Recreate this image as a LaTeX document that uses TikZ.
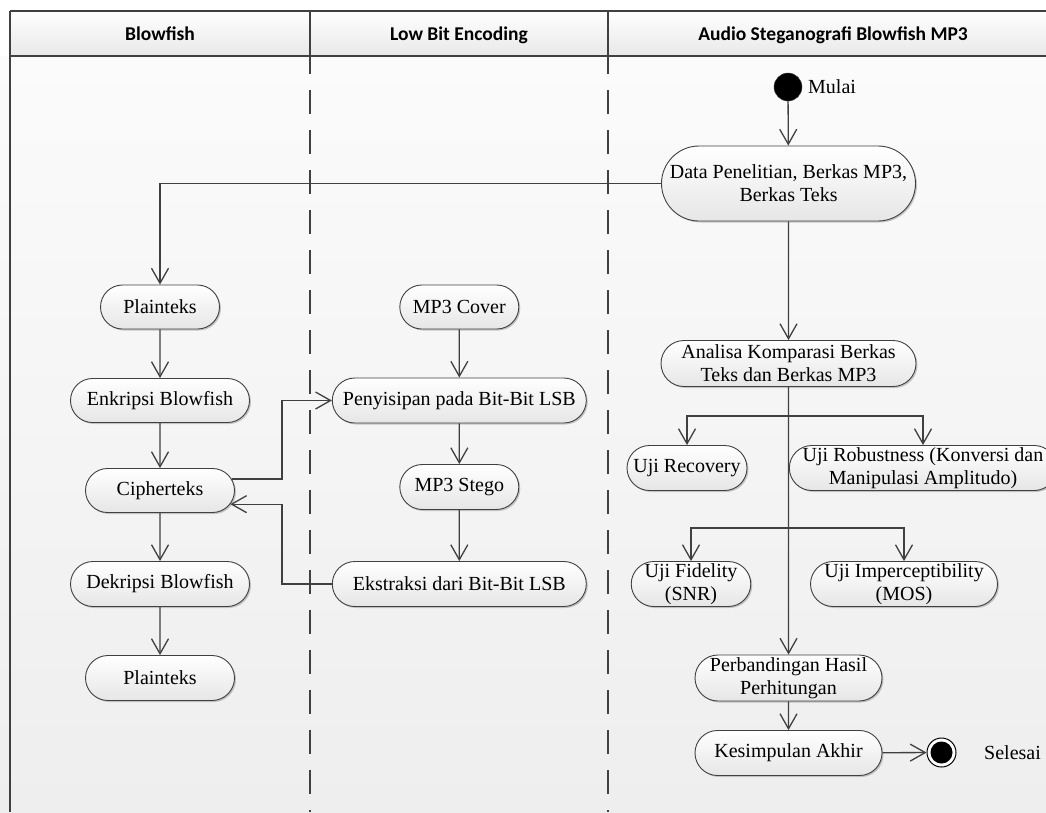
\documentclass[tikz,border=0pt]{standalone}
\usepackage{fontspec}
\setmainfont{Liberation Serif}
\newfontfamily\hdrfont{Carlito}
\usetikzlibrary{shapes.misc,arrows.meta,shadows}
\definecolor{ln}{HTML}{404040}
\definecolor{bgtop}{HTML}{FBFBFB}
\definecolor{bgbot}{HTML}{EEEEEE}
\definecolor{hdbot}{HTML}{E8E8E8}
\definecolor{ndbot}{HTML}{E6E6E6}
\begin{document}
\begin{tikzpicture}[x=1pt,y=-1pt,
  act/.style={rounded rectangle, draw=ln, line width=0.9pt, top color=white, bottom color=ndbot,
    inner sep=0pt, align=center, font=\fontsize{20}{23}\selectfont,
    drop shadow={shadow xshift=1.5pt, shadow yshift=-1.5pt, fill=black, opacity=0.2}},
  arr/.style={draw=ln, line width=1.3pt, -{Straight Barb[length=15pt,width=17pt]}},
  conn/.style={draw=ln, line width=1.3pt},
  lane/.style={draw=ln, line width=1.3pt},
  lanedash/.style={draw=ln, line width=1.3pt, dash pattern=on 24pt off 16pt, dash phase=6pt},
  hdr/.style={font=\hdrfont\bfseries\fontsize{19.5}{23}\selectfont, anchor=base},
  lbl/.style={font=\fontsize{20}{23}\selectfont, anchor=base west, inner sep=0pt}
]
\useasboundingbox (0,0) rectangle (1046,812);
\clip (0,0) rectangle (1046,812);
\fill[white] (0,0) rectangle (1046,812);
\shade[top color=bgtop, bottom color=bgbot] (0,56) rectangle (1046,812);
\shade[top color=white, bottom color=hdbot] (10,11) rectangle (1060,56);
\draw[lane] (10,11) -- (1060,11);
\draw[lane] (10,56) -- (1060,56);
\draw[lane] (10,11) -- (10,812);
\draw[lane] (310,11) -- (310,56);
\draw[lane] (608,11) -- (608,56);
\draw[lanedash] (310,56) -- (310,812);
\draw[lanedash] (608,56) -- (608,812);

\node[hdr] (h1) at (160,40) {Blowfish};
\node[hdr] (h2) at (459,40) {Low Bit Encoding};
\node[hdr] (h3) at (833,40) {Audio Steganografi Blowfish MP3};

% right lane
\node[circle, fill=black, draw=ln, minimum size=28pt, inner sep=0pt] (start) at (788,87) {};
\node[lbl] (mulai) at (808,93) {Mulai};
\node[act, minimum width=254pt, minimum height=75pt] (data) at (788.5,183.5) {Data Penelitian, Berkas MP3,\\Berkas Teks};
\node[act, minimum width=255pt, minimum height=46pt] (anal) at (788.5,363.5) {Analisa Komparasi Berkas\\Teks dan Berkas MP3};
\node[act, minimum width=120pt, minimum height=45pt] (recov) at (687,468) {Uji Recovery};
\node[act, minimum width=254pt, minimum height=45pt] (robust) at (923,468) {Uji Robustness (Konversi dan\\Manipulasi Amplitudo)};
\node[act, minimum width=119pt, minimum height=45pt] (fidel) at (691,584) {Uji Fidelity\\(SNR)};
\node[act, minimum width=187pt, minimum height=45pt] (imper) at (904,584) {Uji Imperceptibility\\(MOS)};
\node[act, minimum width=187pt, minimum height=46pt] (perb) at (788.5,678) {Perbandingan Hasil\\Perhitungan};
\node[act, minimum width=187pt, minimum height=45pt] (kesim) at (788.5,753) {Kesimpulan Akhir};
\node[circle, draw=black, line width=1pt, fill=white, minimum size=29pt, inner sep=0pt,
  path picture={\fill[black] (path picture bounding box.center) circle (11pt);}] (end) at (941.5,752.5) {};
\node[lbl] (selesai) at (984,759) {Selesai};

% left lane
\node[act, minimum width=119pt, minimum height=44pt] (plain1) at (160,307) {Plainteks};
\node[act, minimum width=179pt, minimum height=44pt] (enkr) at (160,400.5) {Enkripsi Blowfish};
\node[act, minimum width=149pt, minimum height=44pt] (ciph) at (160,490.5) {Cipherteks};
\node[act, minimum width=179pt, minimum height=45pt] (dekr) at (160,584) {Dekripsi Blowfish};
\node[act, minimum width=149pt, minimum height=45pt] (plain2) at (160,678) {Plainteks};

% middle lane
\node[act, minimum width=119pt, minimum height=44pt] (cover) at (459.3,307) {MP3 Cover};
\node[act, minimum width=254pt, minimum height=45pt] (peny) at (459.3,400.5) {Penyisipan pada Bit-Bit LSB};
\node[act, minimum width=119pt, minimum height=45pt] (stego) at (459.3,487) {MP3 Stego};
\node[act, minimum width=254pt, minimum height=45pt] (ekst) at (459.3,584) {Ekstraksi dari Bit-Bit LSB};

% connectors
\draw[arr] (start) -- (data);
\draw[arr] (data.west) -| (plain1.north);
\draw[arr] (data) -- (anal);
\draw[arr] (anal) -- (perb);
\coordinate (b1) at (788.5,416);
\coordinate (b2) at (788.5,528);
\draw[arr] (b1) -| (recov.north);
\draw[arr] (b1) -| (robust.north);
\draw[arr] (b2) -| (fidel.north);
\draw[arr] (b2) -| (imper.north);
\draw[arr] (perb) -- (kesim);
\draw[arr] (kesim) -- (end);

\draw[arr] (plain1) -- (enkr);
\draw[arr] (enkr) -- (ciph);
\draw[arr] (ciph) -- (dekr);
\draw[arr] (dekr) -- (plain2);

\draw[arr] (cover) -- (peny);
\draw[arr] (peny) -- (stego);
\draw[arr] (stego) -- (ekst);

\draw[arr] (ciph.9) -- ++(50,0) |- (peny.west);
\draw[arr] (ekst.west) -- ++(-50,0) |- (ciph.-11);
\end{tikzpicture}
\end{document}
